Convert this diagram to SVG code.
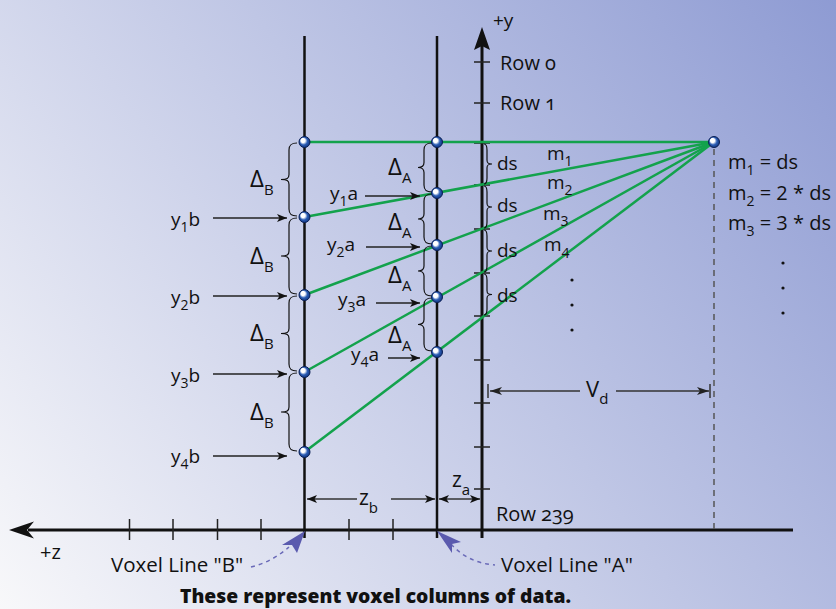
<svg xmlns="http://www.w3.org/2000/svg" width="836" height="609" viewBox="0 0 836 609">
<defs>
<linearGradient id="bg" gradientUnits="userSpaceOnUse" x1="0" y1="609" x2="836" y2="0">
<stop offset="0" stop-color="#f8f8fa"/>
<stop offset="1" stop-color="#8e9bd3"/>
</linearGradient>
<radialGradient id="ball" cx="0.5" cy="0.5" r="0.6" fx="0.3" fy="0.3">
<stop offset="0" stop-color="#ffffff"/>
<stop offset="0.32" stop-color="#ffffff"/>
<stop offset="0.58" stop-color="#2a5cb4"/>
<stop offset="1" stop-color="#0a2a70"/>
</radialGradient>
<marker id="ah" viewBox="0 0 10 8" refX="10" refY="4" markerWidth="10" markerHeight="8" markerUnits="userSpaceOnUse" orient="auto-start-reverse">
<path d="M0,0 L10,4 L0,8 L2.5,4 z" fill="#111"/>
</marker>
<marker id="ahL" viewBox="0 0 12 8" refX="12" refY="4" markerWidth="12" markerHeight="8" markerUnits="userSpaceOnUse" orient="auto-start-reverse">
<path d="M0,0 L12,4 L0,8 L3,4 z" fill="#222"/>
</marker>
<style>
text{font-family:"Open Sans","Noto Sans","DejaVu Sans",sans-serif;fill:#111;font-size:19px}
.sub{font-size:14px}
.dl{font-size:24px}
.dl .sub{font-size:15px}
.eq{font-size:20px}
.row{font-size:20px;font-variant-numeric:oldstyle-nums}
.vl{stroke:#111;stroke-width:2.5;fill:none}
.ax{stroke:#111;stroke-width:3;fill:none}
.tk{stroke:#222;stroke-width:1.5}
.gr{stroke:#13a24c;stroke-width:2.5;fill:none}
.br{stroke:#111;stroke-width:1.2;fill:none}
.ar{stroke:#222;stroke-width:1.5;fill:none;marker-end:url(#ah)}
.dim{stroke:#333;stroke-width:1.5;fill:none}
.pt{fill:url(#ball);stroke:#0a1f55;stroke-width:1}
.dot{fill:#111}
.pd{stroke:#6a6ab8;stroke-width:1.5;stroke-dasharray:4 4;fill:none}
.ph{fill:#5a5aae}
</style>
</defs>
<rect x="0" y="0" width="836" height="609" fill="url(#bg)"/>

<g id="axes">
<line class="vl" x1="304.5" y1="36" x2="304.5" y2="538"/>
<line class="vl" x1="437" y1="36" x2="437" y2="538"/>
<line class="ax" x1="482" y1="45" x2="482" y2="538"/>
<polygon points="482,27 490,50 482,46 474,50" fill="#111"/>
<text x="493" y="27" style="font-size:19px">+y</text>
<line class="ax" x1="28" y1="530" x2="793" y2="530"/>
<polygon points="9,530 34,521.5 27,530 34,538.5" fill="#111"/>
<text x="40" y="559" style="font-size:20px">+z</text>
<g>
<line class="tk" x1="474" y1="62" x2="490" y2="62"/>
<line class="tk" x1="474" y1="103" x2="490" y2="103"/>
<line class="tk" x1="474" y1="143" x2="490" y2="143"/>
<line class="tk" x1="474" y1="185" x2="490" y2="185"/>
<line class="tk" x1="474" y1="229" x2="490" y2="229"/>
<line class="tk" x1="474" y1="273" x2="490" y2="273"/>
<line class="tk" x1="474" y1="316" x2="490" y2="316"/>
<line class="tk" x1="474" y1="360" x2="490" y2="360"/>
<line class="tk" x1="474" y1="403" x2="490" y2="403"/>
<line class="tk" x1="474" y1="447" x2="490" y2="447"/>
<line class="tk" x1="474" y1="489" x2="490" y2="489"/>
<line class="tk" x1="129.5" y1="519" x2="129.5" y2="540"/>
<line class="tk" x1="173" y1="519" x2="173" y2="540"/>
<line class="tk" x1="217.5" y1="519" x2="217.5" y2="540"/>
<line class="tk" x1="261" y1="519" x2="261" y2="540"/>
<line class="tk" x1="349" y1="519" x2="349" y2="540"/>
<line class="tk" x1="393" y1="519" x2="393" y2="540"/>
</g>
<text class="row" x="500" y="70">Row 0</text>
<text class="row" x="500" y="110">Row 1</text>
<text class="row" x="496" y="521">Row 239</text>
<line x1="714" y1="149" x2="714" y2="530" stroke="#555" stroke-width="1.5" stroke-dasharray="6 5"/>
</g>

<g id="connectors">
<line class="gr" x1="304.5" y1="142" x2="714" y2="142"/>
<line class="gr" x1="304.5" y1="217" x2="714" y2="142"/>
<line class="gr" x1="304.5" y1="295" x2="714" y2="142"/>
<line class="gr" x1="304.5" y1="372" x2="714" y2="142"/>
<line class="gr" x1="304.5" y1="452" x2="714" y2="142"/>
<line class="ar" x1="213" y1="218" x2="287" y2="218"/>
<line class="ar" x1="213" y1="296" x2="287" y2="296"/>
<line class="ar" x1="213" y1="374" x2="287" y2="374"/>
<line class="ar" x1="213" y1="456" x2="287" y2="456"/>
<line class="ar" x1="365" y1="196" x2="420" y2="196"/>
<line class="ar" x1="366" y1="247" x2="420" y2="247"/>
<line class="ar" x1="376" y1="303" x2="420" y2="303"/>
<line class="ar" x1="388" y1="358" x2="420" y2="358"/>
<line class="dim" x1="490" y1="391" x2="580" y2="391" marker-start="url(#ahL)"/>
<line class="dim" x1="616" y1="391" x2="709" y2="391" marker-end="url(#ahL)"/>
<line class="dim" x1="488" y1="384" x2="488" y2="398"/>
<line class="dim" x1="710" y1="384" x2="710" y2="398"/>
<line class="dim" x1="307" y1="499" x2="357" y2="499" marker-start="url(#ah)"/>
<line class="dim" x1="391" y1="499" x2="435" y2="499" marker-end="url(#ah)"/>
<line class="dim" x1="439" y1="499" x2="480" y2="499" marker-start="url(#ah)" marker-end="url(#ah)"/>
<path class="pd" d="M251,567 Q272,562 289,547"/>
<polygon class="ph" points="305,531 297,553 292,545 282,545"/>
<path class="pd" d="M451,544 Q468,563 495,565"/>
<polygon class="ph" points="437,531 461,542 452,544 452,553"/>
</g>

<g id="braces">
<path class="br" d="M297,143 C291,143 289,145 289,150 L289,174.5 C289,178.5 287,179.5 281,179.5 C287,179.5 289,180.5 289,184.5 L289,209 C289,214 291,216 297,216"/>
<path class="br" d="M297,218 C291,218 289,220 289,225 L289,251 C289,255 287,256 281,256 C287,256 289,257 289,261 L289,287 C289,292 291,294 297,294"/>
<path class="br" d="M297,296 C291,296 289,298 289,303 L289,328.5 C289,332.5 287,333.5 281,333.5 C287,333.5 289,334.5 289,338.5 L289,364 C289,369 291,371 297,371"/>
<path class="br" d="M297,373 C291,373 289,375 289,380 L289,407 C289,411 287,412 281,412 C287,412 289,413 289,417 L289,444 C289,449 291,451 297,451"/>
<path class="br" d="M432,143 C426,143 424,145 424,150 L424,162.5 C424,166.5 422,167.5 418,167.5 C422,167.5 424,168.5 424,172.5 L424,185 C424,190 426,192 432,192"/>
<path class="br" d="M432,194 C426,194 424,196 424,201 L424,214 C424,218 422,219 418,219 C422,219 424,220 424,224 L424,237 C424,242 426,244 432,244"/>
<path class="br" d="M432,246 C426,246 424,248 424,253 L424,266 C424,270 422,271 418,271 C422,271 424,272 424,276 L424,289 C424,294 426,296 432,296"/>
<path class="br" d="M432,298 C426,298 424,300 424,305 L424,319.5 C424,323.5 422,324.5 418,324.5 C422,324.5 424,325.5 424,329.5 L424,344 C424,349 426,351 432,351"/>
<path class="br" d="M484,144 C486,144 487,146 487,150 L487,160 C487,163 488,164 492,164 C488,164 487,165 487,168 L487,178 C487,182 486,184 484,184"/>
<path class="br" d="M484,186 C486,186 487,188 487,192 L487,203 C487,206 488,207 492,207 C488,207 487,208 487,211 L487,222 C487,226 486,228 484,228"/>
<path class="br" d="M484,230 C486,230 487,232 487,236 L487,247 C487,250 488,251 492,251 C488,251 487,252 487,255 L487,266 C487,270 486,272 484,272"/>
<path class="br" d="M484,274 C486,274 487,276 487,280 L487,290.5 C487,293.5 488,294.5 492,294.5 C488,294.5 487,295.5 487,298.5 L487,309 C487,313 486,315 484,315"/>
</g>

<g id="labels-delta">
<text class="dl" x="250" y="187">Δ<tspan class="sub" dy="8">B</tspan></text>
<text class="dl" x="250" y="264">Δ<tspan class="sub" dy="8">B</tspan></text>
<text class="dl" x="250" y="341">Δ<tspan class="sub" dy="8">B</tspan></text>
<text class="dl" x="250" y="420">Δ<tspan class="sub" dy="8">B</tspan></text>
<text class="dl" x="388" y="175">Δ<tspan class="sub" dy="8">A</tspan></text>
<text class="dl" x="388" y="230">Δ<tspan class="sub" dy="8">A</tspan></text>
<text class="dl" x="388" y="283">Δ<tspan class="sub" dy="8">A</tspan></text>
<text class="dl" x="388" y="343">Δ<tspan class="sub" dy="8">A</tspan></text>
<text x="497" y="170">ds</text>
<text x="497" y="211.5">ds</text>
<text x="497" y="256.5">ds</text>
<text x="497" y="301.5">ds</text>
<text x="547" y="160">m<tspan class="sub" dy="6">1</tspan></text>
<text x="547" y="189">m<tspan class="sub" dy="6">2</tspan></text>
<text x="543" y="220">m<tspan class="sub" dy="6">3</tspan></text>
<text x="544" y="251">m<tspan class="sub" dy="7">4</tspan></text>
<circle class="dot" cx="572" cy="280" r="1.6"/>
<circle class="dot" cx="572" cy="305" r="1.6"/>
<circle class="dot" cx="572" cy="330" r="1.6"/>
</g>

<g id="node-B0"><circle class="pt" cx="304.5" cy="142" r="5.5"/></g>
<g id="node-B1"><circle class="pt" cx="304.5" cy="217" r="5.5"/><text x="171" y="226">y<tspan class="sub" dy="6">1</tspan><tspan dy="-6">b</tspan></text></g>
<g id="node-B2"><circle class="pt" cx="304.5" cy="295" r="5.5"/><text x="171" y="304">y<tspan class="sub" dy="6">2</tspan><tspan dy="-6">b</tspan></text></g>
<g id="node-B3"><circle class="pt" cx="304.5" cy="372" r="5.5"/><text x="171" y="382">y<tspan class="sub" dy="6">3</tspan><tspan dy="-6">b</tspan></text></g>
<g id="node-B4"><circle class="pt" cx="304.5" cy="452" r="5.5"/><text x="171" y="463">y<tspan class="sub" dy="6">4</tspan><tspan dy="-6">b</tspan></text></g>
<g id="node-A0"><circle class="pt" cx="437" cy="142" r="5.5"/></g>
<g id="node-A1"><circle class="pt" cx="437" cy="193" r="5.5"/><text x="330" y="200">y<tspan class="sub" dy="6">1</tspan><tspan dy="-6">a</tspan></text></g>
<g id="node-A2"><circle class="pt" cx="437" cy="245" r="5.5"/><text x="327" y="251">y<tspan class="sub" dy="6">2</tspan><tspan dy="-6">a</tspan></text></g>
<g id="node-A3"><circle class="pt" cx="437" cy="297" r="5.5"/><text x="338" y="306">y<tspan class="sub" dy="6">3</tspan><tspan dy="-6">a</tspan></text></g>
<g id="node-A4"><circle class="pt" cx="437" cy="352" r="5.5"/><text x="351" y="361">y<tspan class="sub" dy="6">4</tspan><tspan dy="-6">a</tspan></text></g>
<g id="node-F">
<circle class="pt" cx="714" cy="142" r="5.5"/>
<text class="eq" x="728" y="169">m<tspan class="sub" dy="6">1</tspan><tspan dy="-6"> = ds</tspan></text>
<text class="eq" x="728" y="200">m<tspan class="sub" dy="6">2</tspan><tspan dy="-6"> = 2 * ds</tspan></text>
<text class="eq" x="728" y="230">m<tspan class="sub" dy="6">3</tspan><tspan dy="-6"> = 3 * ds</tspan></text>
<circle class="dot" cx="783" cy="263" r="1.6"/>
<circle class="dot" cx="783" cy="288" r="1.6"/>
<circle class="dot" cx="783" cy="313" r="1.6"/>
</g>

<g id="dims">
<text x="586" y="397" style="font-size:22px">V<tspan dy="7" style="font-size:15px">d</tspan></text>
<text x="359" y="505" style="font-size:21px">z<tspan dy="8" style="font-size:15px">b</tspan></text>
<text x="452" y="487" style="font-size:21px">z<tspan dy="8" style="font-size:15px">a</tspan></text>
</g>

<g id="captions">
<text x="111" y="571.5" style="font-size:20.5px">Voxel Line "B"</text>
<text x="501" y="571.5" style="font-size:20.5px">Voxel Line "A"</text>
<text x="180" y="603" style="font-size:19px;font-weight:800" textLength="391" lengthAdjust="spacingAndGlyphs">These represent voxel columns of data.</text>
</g>
</svg>
